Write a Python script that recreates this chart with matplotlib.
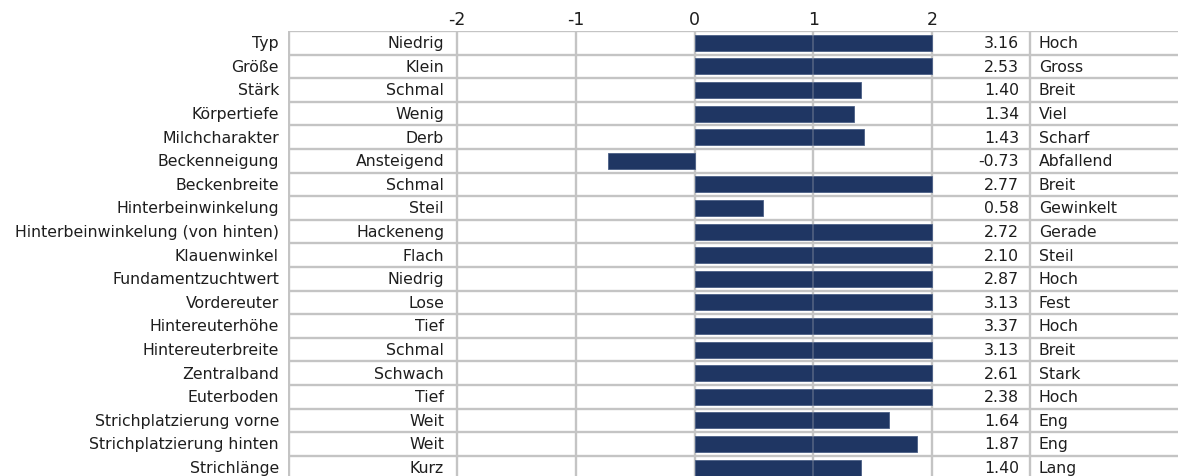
import matplotlib.pyplot as plt
import numpy as np

plt.rcParams['font.family'] = ['DejaVu Sans']

merkmale = ["Typ", "Größe", "Stärk", "Körpertiefe", "Milchcharakter", "Beckenneigung",
            "Beckenbreite", "Hinterbeinwinkelung", "Hinterbeinwinkelung (von hinten)",
            "Klauenwinkel", "Fundamentzuchtwert", "Vordereuter", "Hintereuterhöhe",
            "Hintereuterbreite", "Zentralband", "Euterboden", "Strichplatzierung vorne",
            "Strichplatzierung hinten", "Strichlänge"]
niedrig = ["Niedrig", "Klein", "Schmal", "Wenig", "Derb", "Ansteigend", "Schmal", "Steil",
           "Hackeneng", "Flach", "Niedrig", "Lose", "Tief", "Schmal", "Schwach", "Tief",
           "Weit", "Weit", "Kurz"]
hoch = ["Hoch", "Gross", "Breit", "Viel", "Scharf", "Abfallend", "Breit", "Gewinkelt",
        "Gerade", "Steil", "Hoch", "Fest", "Hoch", "Breit", "Stark", "Hoch", "Eng", "Eng",
        "Lang"]
werte = [3.16, 2.53, 1.40, 1.34, 1.43, -0.73, 2.77, 0.58, 2.72, 2.10, 2.87, 3.13, 3.37,
         3.13, 2.61, 2.38, 1.64, 1.87, 1.40]
ticks = [-2, -1, 0, 1, 2]

# Pixel-Layout (118.75 px pro Einheit, -2 bei x=457)
W, H = 1178, 476
px = 118.75
def dx(p):
    return -2 + (p - 457) / px

grau = "#c4c4c4"
text_farbe = "#1e1e1e"
balken = "#1f3663"

fig = plt.figure(figsize=(W / 100, H / 100), dpi=100)
fig.patch.set_facecolor("white")
top = 31
ax = fig.add_axes([288 / W, 0, 1 - 288 / W, 1 - top / H])
n = len(merkmale)
y = np.arange(n)
x_links, x_rechts = dx(288), dx(W)
ax.set_xlim(x_links, x_rechts)
ax.set_ylim(-0.5 + (H - top) / 23.6, -0.5)

# Gitter / Tabelle
ax.hlines(np.arange(n + 1) - 0.5, x_links, x_rechts, color=grau, lw=1.7, zorder=1)
ax.vlines([x_links + 0.01, -2, -1, 0, 1, 2, dx(1030)], -0.5, n, color=grau, lw=1.7, zorder=1)

ax.barh(y, np.clip(werte, -2, 2), height=0.67, color=balken, edgecolor="#4a5f86",
        linewidth=0.6, zorder=2)
ax.vlines([1], -0.5, n, color=grau, lw=1.2, alpha=0.3, zorder=3)

fs = 11.3
for i in range(n):
    ax.text(dx(279), i + 0.04, merkmale[i], ha="right", va="center", fontsize=fs, color=text_farbe)
    ax.text(dx(444), i + 0.04, niedrig[i], ha="right", va="center", fontsize=fs, color=text_farbe)
    ax.text(dx(1019), i + 0.04, "%.2f" % werte[i], ha="right", va="center", fontsize=fs,
            color=text_farbe)
    ax.text(dx(1039), i + 0.04, hoch[i], ha="left", va="center", fontsize=fs, color=text_farbe)

ax.xaxis.tick_top()
ax.set_xticks(ticks)
ax.set_xticklabels([str(t) for t in ticks])
ax.tick_params(axis="x", length=0, labelsize=12.5, pad=1.5, colors=text_farbe)
ax.set_yticks([])
for s in ax.spines.values():
    s.set_visible(False)

fig.savefig("out.png", dpi=100)
